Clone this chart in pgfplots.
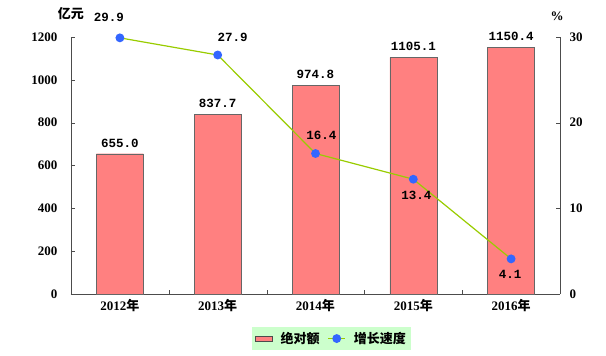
\documentclass[border=0pt]{standalone}
\usepackage{pgfplots}
\pgfplotsset{compat=1.18}
\usepackage{fontspec}
\setmainfont{Liberation Serif}
\newfontfamily\cjk{Noto Sans CJK SC}
\newfontfamily\monof{Liberation Mono}
\definecolor{barcol}{RGB}{255,128,128}
\definecolor{linecol}{RGB}{153,204,0}
\definecolor{markcol}{RGB}{51,102,255}
\definecolor{legbg}{RGB}{204,255,204}
\begin{document}
\begin{tikzpicture}
\path[use as bounding box] (-71pt,-62pt) rectangle (535pt,294pt);
\begin{axis}[
  at={(0pt,0pt)}, anchor=south west,
  scale only axis, width=489pt, height=257pt,
  xmin=-0.5, xmax=4.5, ymin=0, ymax=1200,
  axis y line*=left, axis x line*=bottom,
  axis line style={-, draw=black!70},
  tick align=inside,
  xtick={0,1,2,3,4},
  xticklabels={2012{\cjk 年},2013{\cjk 年},2014{\cjk 年},2015{\cjk 年},2016{\cjk 年}},
  major x tick style={draw=none},
  minor xtick={0.5,1.5,2.5,3.5},
  minor tick length=4pt,
  major tick length=4pt,
  ytick={0,200,400,600,800,1000,1200},
  tick style={draw=black!70},
  /pgf/number format/assume math mode=true,
  /pgf/number format/1000 sep={},
  ticklabel style={font=\fontsize{13}{15}\selectfont\bfseries},
  yticklabel style={xshift=-10pt},
  xticklabel style={yshift=-2pt},
  clip=false,
]
\addplot[ybar, bar width=47pt, fill=barcol, draw=black!60,
  nodes near coords={\pgfmathprintnumber[fixed,fixed zerofill,precision=1,1000 sep={}]{\pgfplotspointmeta}},
  point meta=explicit,
  nodes near coords style={font=\monof\fontsize{12.5}{15}\selectfont\bfseries, anchor=south, yshift=3pt}]
  coordinates {(0,655.0)[655.0] (1,837.7)[837.7] (2,974.8)[974.8] (3,1105.1)[1105.1] (4,1150.4)[1150.4]};
\node[font=\cjk\fontsize{13}{15}\selectfont\bfseries] at (axis description cs:0,1) [yshift=23pt] {亿元};
\end{axis}
\begin{axis}[
  at={(0pt,0pt)}, anchor=south west,
  scale only axis, width=489pt, height=257pt,
  xmin=-0.5, xmax=4.5, ymin=0, ymax=30,
  axis y line*=right, axis x line=none,
  axis line style={-, draw=black!70},
  tick align=inside, major tick length=4pt,
  tick style={draw=black!70},
  ytick={0,10,20,30},
  /pgf/number format/assume math mode=true,
  ticklabel style={font=\fontsize{13}{15}\selectfont\bfseries},
  yticklabel style={xshift=6pt},
  clip=false,
  legend style={at={(0.5,0)}, anchor=north, xshift=16pt, yshift=-33pt, fill=legbg, draw=none,
    font=\cjk\fontsize{13}{15}\selectfont\bfseries, column sep=6pt, inner sep=3pt},
  legend columns=2,
]
\addlegendimage{area legend, fill=barcol, draw=black!70}
\addlegendentry{绝对额}
\addplot[color=linecol, line width=1.2pt, mark=*, mark size=3.8pt,
  mark options={fill=markcol, draw=markcol},
  visualization depends on={\thisrow{dx}\as\dx},
  visualization depends on={\thisrow{dy}\as\dy},
  nodes near coords={\pgfmathprintnumber[fixed,fixed zerofill,precision=1]{\pgfplotspointmeta}},
  point meta=explicit,
  nodes near coords style={font=\monof\fontsize{12.5}{15}\selectfont\bfseries, anchor=center, xshift=\dx pt, yshift=\dy pt, text=black}]
  table[meta=y] {
  x y dx dy
  0 29.9 -11 20
  1 27.9 15 18
  2 16.4 6 18
  3 13.4 3 -16
  4 4.1 -1 -16
  };
\addlegendentry{增长速度}
\node[font=\fontsize{13}{15}\selectfont\bfseries] at (axis description cs:1,1) [yshift=21pt, xshift=-3pt] {\%};
\end{axis}
\end{tikzpicture}
\end{document}
